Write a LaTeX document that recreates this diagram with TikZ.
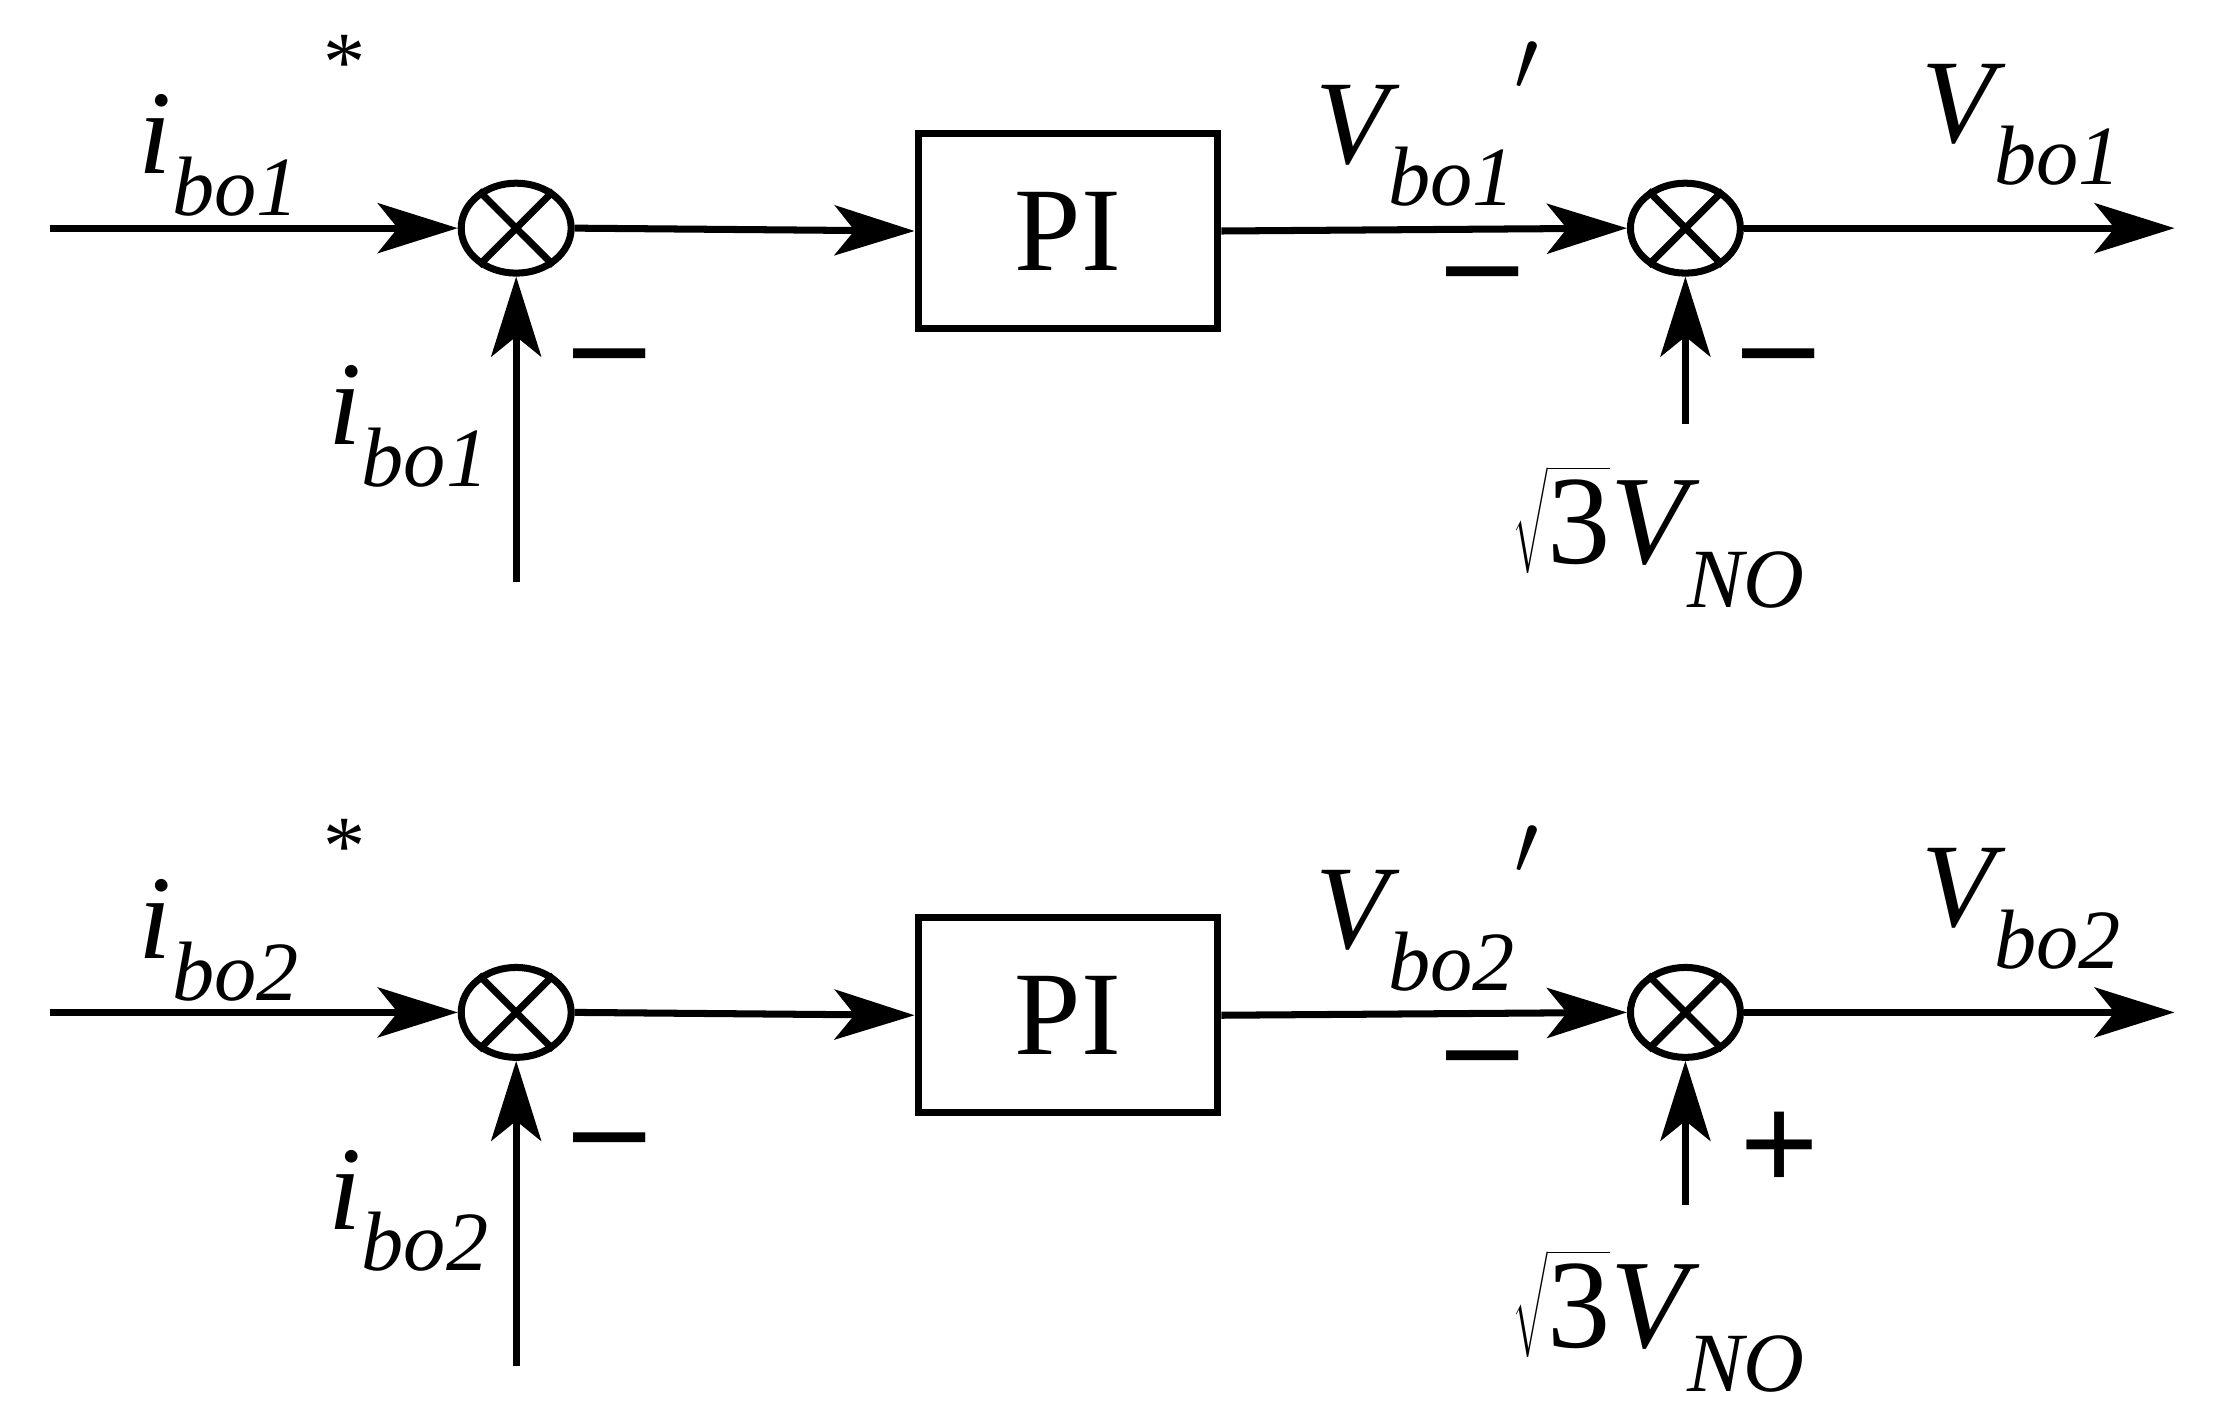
\documentclass[tikz,border=0pt]{standalone}
\usepackage{fontspec}
\setmainfont{Liberation Serif}
\usetikzlibrary{arrows.meta,shapes.geometric}
\newcommand{\sbs}[1]{\raisebox{-0.35em}{\fontsize{24}{24}\selectfont\itshape #1}}
\begin{document}
\begin{tikzpicture}[x=0.01426cm,y=-0.01426cm,line width=2pt,
  sum/.style={draw,ellipse,minimum width=1.1cm,minimum height=0.9cm,inner sep=0pt},
  blk/.style={draw,rectangle,minimum width=3.0cm,minimum height=1.95cm,font=\fontsize{34}{40}\selectfont},
  sig/.style={-{Stealth[length=0.8cm,width=0.5cm,inset=0.2cm]}},
  lbl/.style={font=\fontsize{34}{38}\selectfont\itshape,inner sep=0pt},
  sgn/.style={font=\fontsize{40}{40}\selectfont,inner sep=0pt}]
\useasboundingbox (0,0) rectangle (1552,990);
\foreach \r/\dy/\bot/\bott/\sg in {1/0/408/297/{\textbf{--}}, 2/550/958/845/{\textbf{+}}}{
  \coordinate (in\r) at (35,160+\dy);
  \node[sum] (s\r) at (362,160+\dy) {};
  \draw (s\r.45) -- (s\r.225) (s\r.135) -- (s\r.315);
  \node[blk] (pi\r) at (749,162+\dy) {PI};
  \node[sum] (t\r) at (1182,160+\dy) {};
  \draw (t\r.45) -- (t\r.225) (t\r.135) -- (t\r.315);
  \coordinate (out\r) at (1525,160+\dy);
  \coordinate (fb\r) at (362,\bot);
  \coordinate (vn\r) at (1182,\bott);
  \draw[sig] (in\r) -- (s\r.west);
  \draw[sig] (s\r.east) -- (pi\r.west);
  \draw[sig] (pi\r.east) -- (t\r.west);
  \draw[sig] (t\r.east) -- (out\r);
  \draw[sig] (fb\r) -- (s\r.south);
  \draw[sig] (vn\r) -- (t\r.south);
  \node[lbl,anchor=base west] (ir\r) at (95,122+\dy) {i\sbs{bo\r}\raisebox{0.7em}{\upshape\fontsize{24}{24}\selectfont\hspace{0.3em}*}};
  \node[lbl,anchor=base west] (if\r) at (228,312+\dy) {i\sbs{bo\r}};
  \node[lbl,anchor=base west] (vp\r) at (920,115+\dy) {V\sbs{bo\r}\raisebox{0.35em}{\upshape\fontsize{34}{34}\selectfont$'$}};
  \node[lbl,anchor=base west] (vo\r) at (1345,100+\dy) {V\sbs{bo\r}};
  \node[lbl,anchor=base west,font=\fontsize{36}{40}\selectfont\itshape] (vno\r) at (1058,395+\dy) {\upshape$\sqrt{\vphantom{A}\mathrm{3}}$\itshape V\sbs{NO}};
  \node[sgn] (m1\r) at (428,258+\dy) {\textbf{--}};
  \node[sgn] (m2\r) at (1040,200+\dy) {\textbf{--}};
  \node[sgn] (m3\r) at (1248,258+\dy) {\sg};
}
\end{tikzpicture}
\end{document}
